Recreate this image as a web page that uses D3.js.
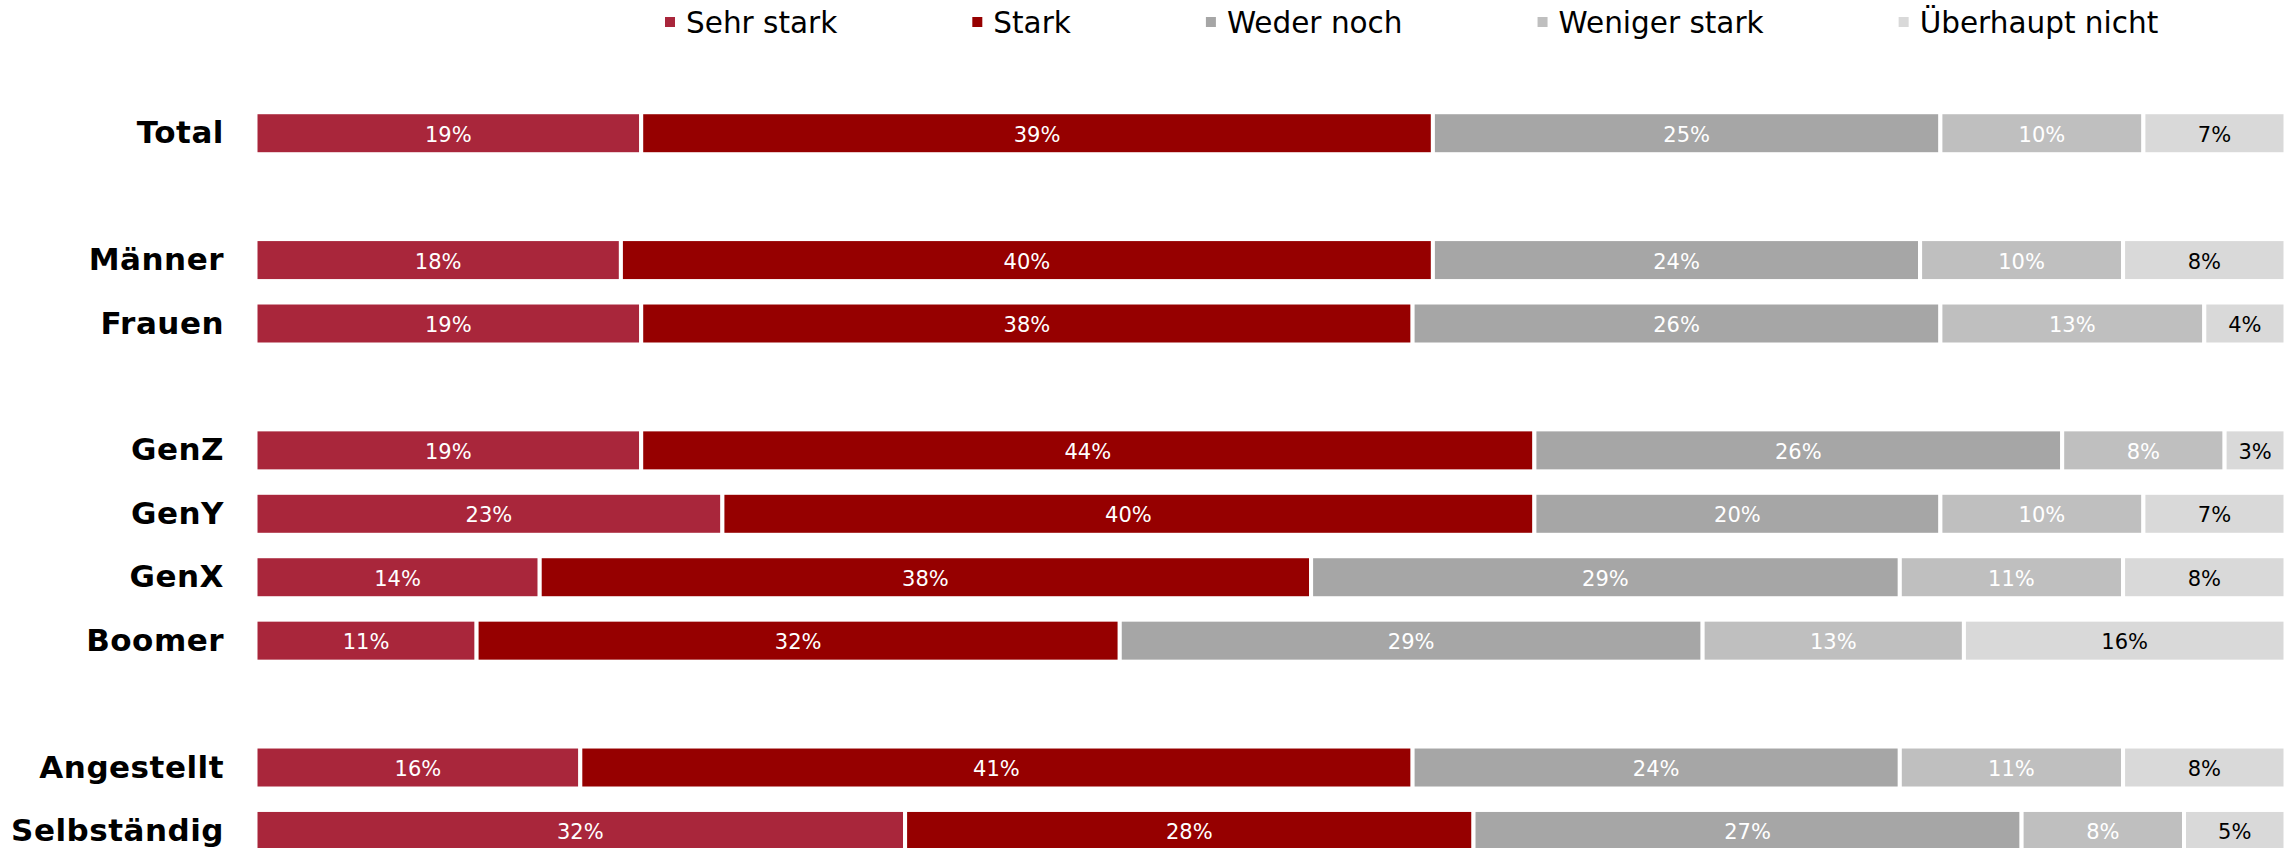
<!DOCTYPE html>
<html>
<head>
<meta charset="utf-8">
<script src="https://cdn.jsdelivr.net/npm/d3@7"></script>
<style>
  html, body { margin: 0; padding: 0; background: #fff; }
  svg { display: block; }
</style>
</head>
<body>
<svg id="chart" width="2290" height="848"></svg>
<script>
// Answer categories (stack order, left to right)
const answers = ["Sehr stark", "Stark", "Weder noch", "Weniger stark", "Überhaupt nicht"];
const answerColors = ["#A9263B", "#960000", "#A6A6A6", "#BFBFBF", "#D9D9D9"];
const labelColors = ["#fff", "#fff", "#fff", "#fff", "#000"];

// Row order; empty strings are spacer rows between groups
const rows = ["Total", "", "Männer", "Frauen", "", "GenZ", "GenY", "GenX", "Boomer", "", "Angestellt", "Selbständig"];

// Share of respondents per answer (percent)
const sehrStark      = { Total: 19, "Männer": 18, Frauen: 19, GenZ: 19, GenY: 23, GenX: 14, Boomer: 11, Angestellt: 16, "Selbständig": 32 };
const stark          = { Total: 39, "Männer": 40, Frauen: 38, GenZ: 44, GenY: 40, GenX: 38, Boomer: 32, Angestellt: 41, "Selbständig": 28 };
const wederNoch      = { Total: 25, "Männer": 24, Frauen: 26, GenZ: 26, GenY: 20, GenX: 29, Boomer: 29, Angestellt: 24, "Selbständig": 27 };
const wenigerStark   = { Total: 10, "Männer": 10, Frauen: 13, GenZ: 8,  GenY: 10, GenX: 11, Boomer: 13, Angestellt: 11, "Selbständig": 8 };
const ueberhauptNicht= { Total: 7,  "Männer": 8,  Frauen: 4,  GenZ: 3,  GenY: 7,  GenX: 8,  Boomer: 16, Angestellt: 8,  "Selbständig": 5 };

const seriesValues = [sehrStark, stark, wederNoch, wenigerStark, ueberhauptNicht];

const svg = d3.select("#chart");
const fontFamily = "'DejaVu Sans', Verdana, sans-serif";

// Keys for the band scale (spacers get unique keys)
const rowKeys = rows.map((r, i) => r === "" ? "_gap" + i : r);

const x = d3.scaleLinear().domain([0, 1]).range([255.5, 2285.5]);
const y = d3.scaleBand()
  .domain(rowKeys)
  .range([101.5, 101.5 + 12 * 63.43])
  .paddingInner(0.338)
  .paddingOuter(0.169);

// Build normalized stacks for each data row
const dataRows = rows.filter(r => r !== "");
const stackData = dataRows.map(r => {
  const vals = seriesValues.map(s => s[r]);
  const total = d3.sum(vals);
  let acc = 0;
  return {
    row: r,
    segs: vals.map((v, i) => {
      const s = { key: answers[i], i, v, x0: acc / total, x1: (acc + v) / total };
      acc += v;
      return s;
    })
  };
});

const barG = svg.append("g");
const rowG = barG.selectAll("g.row")
  .data(stackData)
  .join("g")
  .attr("class", "row")
  .attr("transform", d => `translate(0,${y(d.row)})`);

rowG.selectAll("rect")
  .data(d => d.segs)
  .join("rect")
  .attr("x", d => x(d.x0))
  .attr("width", d => x(d.x1) - x(d.x0))
  .attr("y", 0)
  .attr("height", y.bandwidth())
  .attr("fill", d => answerColors[d.i])
  .attr("stroke", "#fff")
  .attr("stroke-width", 4);

rowG.selectAll("text.val")
  .data(d => d.segs)
  .join("text")
  .attr("class", "val")
  .attr("x", d => (x(d.x0) + x(d.x1)) / 2)
  .attr("y", y.bandwidth() / 2 + 8.5)
  .attr("text-anchor", "middle")
  .attr("font-family", fontFamily)
  .attr("font-size", 21)
  .attr("fill", d => labelColors[d.i])
  .text(d => d.v + "%");

// Category labels
svg.append("g").selectAll("text")
  .data(dataRows)
  .join("text")
  .attr("x", 224)
  .attr("y", d => y(d) + y.bandwidth() / 2 + 10)
  .attr("text-anchor", "end")
  .attr("font-family", fontFamily)
  .attr("font-weight", "bold")
  .attr("font-size", 31)
  .attr("letter-spacing", "0.5px")
  .attr("fill", "#000")
  .text(d => d);

// Legend
const legend = svg.append("g");
let lx = 665;
answers.forEach((a, i) => {
  legend.append("rect")
    .attr("x", lx).attr("y", 17)
    .attr("width", 10).attr("height", 10)
    .attr("fill", answerColors[i]);
  const t = legend.append("text")
    .attr("x", lx + 21).attr("y", 33)
    .attr("font-family", fontFamily)
    .attr("font-size", 29.5)
    .attr("fill", "#000")
    .text(a);
  lx += 21 + t.node().getComputedTextLength() + 135;
});
</script>
</body>
</html>
